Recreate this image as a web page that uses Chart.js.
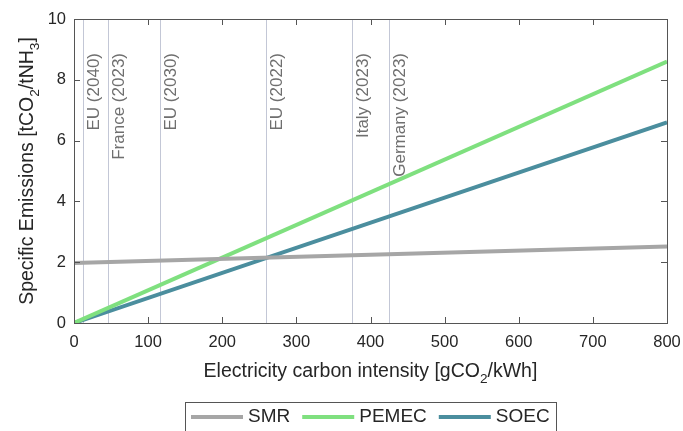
<!DOCTYPE html>
<html>
<head>
<meta charset="utf-8">
<script src="https://cdn.jsdelivr.net/npm/chart.js@4.4.1/dist/chart.umd.min.js"></script>
<style>
    html, body { margin: 0; padding: 0; background: #fff; }
</style>
</head>
<body>
<canvas id="chart" width="683" height="431"></canvas>
<script>
// Electricity carbon intensity (gCO2/kWh) at the ends of each line
const intensity = [0, 800];

// Specific emissions (tCO2/tNH3) per production route
const smrValues = [1.97, 2.52];
const pemecValues = [0, 8.6];
const soecValues = [0, 6.6];

// Grid carbon intensities marked with vertical lines
const gridNames = ['EU (2040)', 'France (2023)', 'EU (2030)', 'EU (2022)', 'Italy (2023)', 'Germany (2023)'];
const gridIntensity = [12, 46, 116, 259, 375, 425];

const FONT = "'Liberation Sans', Arial, Helvetica, sans-serif";
const TEXT = '#262626';
const AXIS = '#555555';

const toPoints = (ys) => ys.map((y, i) => ({ x: intensity[i], y: y }));

// draws a string made of normal / subscript pieces, centred on x
function drawRich(ctx, parts, x, y, size) {
    const subSize = size * 0.7;
    let width = 0;
    parts.forEach(p => {
        ctx.font = (p.sub ? subSize : size) + 'px ' + FONT;
        p.w = ctx.measureText(p.t).width;
        width += p.w;
    });
    let cx = x - width / 2;
    ctx.textAlign = 'left';
    ctx.textBaseline = 'alphabetic';
    parts.forEach(p => {
        ctx.font = (p.sub ? subSize : size) + 'px ' + FONT;
        ctx.fillText(p.t, cx, p.sub ? y + size * 0.3 : y);
        cx += p.w;
    });
}

const framePlugin = {
    id: 'frame',
    beforeDatasetsDraw(chart) {
        const { ctx, chartArea: a, scales: { x } } = chart;
        ctx.save();
        gridIntensity.forEach((v, i) => {
            const px = Math.round(x.getPixelForValue(v)) + 0.5;
            ctx.strokeStyle = '#c3c7d6';
            ctx.lineWidth = 1;
            ctx.beginPath();
            ctx.moveTo(px, a.top);
            ctx.lineTo(px, a.bottom);
            ctx.stroke();

            ctx.save();
            ctx.translate(px + 2, a.top + 34);
            ctx.rotate(-Math.PI / 2);
            ctx.font = '17px ' + FONT;
            ctx.fillStyle = '#6f6f6f';
            ctx.textAlign = 'right';
            ctx.textBaseline = 'top';
            ctx.fillText(gridNames[i], 0, 0);
            ctx.restore();
        });
        ctx.restore();
    },
    afterDatasetsDraw(chart) {
        const { ctx, chartArea: a, scales: { x, y } } = chart;
        ctx.save();
        ctx.strokeStyle = AXIS;
        ctx.lineWidth = 1;
        ctx.strokeRect(Math.round(a.left) + 0.5, Math.round(a.top) + 0.5,
            Math.round(a.right - a.left), Math.round(a.bottom - a.top));
        // inward tick marks on all four sides
        ctx.beginPath();
        x.ticks.forEach(t => {
            const px = Math.round(x.getPixelForValue(t.value)) + 0.5;
            ctx.moveTo(px, a.bottom); ctx.lineTo(px, a.bottom - 6);
            ctx.moveTo(px, a.top); ctx.lineTo(px, a.top + 6);
        });
        y.ticks.forEach(t => {
            const py = Math.round(y.getPixelForValue(t.value)) + 0.5;
            ctx.moveTo(a.left, py); ctx.lineTo(a.left + 6, py);
            ctx.moveTo(a.right, py); ctx.lineTo(a.right - 6, py);
        });
        ctx.stroke();
        ctx.restore();
    },
    afterDraw(chart) {
        const { ctx, chartArea: a } = chart;
        ctx.save();
        ctx.fillStyle = TEXT;

        // x axis title
        drawRich(ctx, [
            { t: 'Electricity carbon intensity [gCO' }, { t: '2', sub: true }, { t: '/kWh]' }
        ], (a.left + a.right) / 2, 377, 19.5);

        // y axis title
        ctx.save();
        ctx.translate(33, (a.top + a.bottom) / 2);
        ctx.rotate(-Math.PI / 2);
        drawRich(ctx, [
            { t: 'Specific Emissions [tCO' }, { t: '2', sub: true }, { t: '/tNH' }, { t: '3', sub: true }, { t: ']' }
        ], 0, 0, 19.5);
        ctx.restore();

        // legend in a framed box below the axes
        const sets = chart.data.datasets;
        const lineLen = 52, gap = 5, itemGap = 12, pad = 6;
        ctx.font = '19px ' + FONT;
        let total = pad * 2;
        sets.forEach((d, i) => {
            total += lineLen + gap + ctx.measureText(d.label).width + (i ? itemGap : 0);
        });
        const left = Math.round((a.left + a.right) / 2 - total / 2);
        const top = 402, midY = 417;
        ctx.strokeStyle = AXIS;
        ctx.lineWidth = 1;
        ctx.strokeRect(left + 0.5, top + 0.5, Math.round(total), 40);
        let cx = left + pad;
        sets.forEach((d, i) => {
            if (i) cx += itemGap;
            ctx.strokeStyle = d.borderColor;
            ctx.lineWidth = 4;
            ctx.beginPath();
            ctx.moveTo(cx, midY);
            ctx.lineTo(cx + lineLen, midY);
            ctx.stroke();
            cx += lineLen + gap;
            ctx.fillStyle = TEXT;
            ctx.textAlign = 'left';
            ctx.textBaseline = 'middle';
            ctx.fillText(d.label, cx, midY);
            cx += ctx.measureText(d.label).width;
        });
        ctx.restore();
    }
};

const lineSet = (label, values, color) => ({
    label: label,
    data: toPoints(values),
    borderColor: color,
    backgroundColor: color,
    borderWidth: 4,
    pointRadius: 0,
    tension: 0,
    fill: false
});

new Chart(document.getElementById('chart'), {
    type: 'line',
    data: {
        datasets: [
            lineSet('SMR', smrValues, '#a6a6a6'),
            lineSet('PEMEC', pemecValues, '#7fe07f'),
            lineSet('SOEC', soecValues, '#4b8e9e')
        ]
    },
    options: {
        responsive: false,
        animation: false,
        devicePixelRatio: 1,
        layout: { padding: { top: 19, right: 16, left: 0, bottom: 78 } },
        plugins: {
            legend: { display: false },
            tooltip: { enabled: false }
        },
        scales: {
            x: {
                type: 'linear',
                min: 0,
                max: 800,
                ticks: { stepSize: 100, padding: 10, maxRotation: 0, color: TEXT, font: { family: FONT, size: 16.5 } },
                grid: { display: false, drawTicks: false },
                border: { display: false },
                afterFit: (s) => { s.height = 30; s.paddingLeft = 0; s.paddingRight = 0; }
            },
            y: {
                min: 0,
                max: 10,
                ticks: { stepSize: 2, padding: 8, color: TEXT, font: { family: FONT, size: 16.5 } },
                grid: { display: false, drawTicks: false },
                border: { display: false },
                afterFit: (s) => { s.width = 74; s.paddingTop = 0; s.paddingBottom = 0; }
            }
        }
    },
    plugins: [framePlugin]
});
</script>
</body>
</html>
